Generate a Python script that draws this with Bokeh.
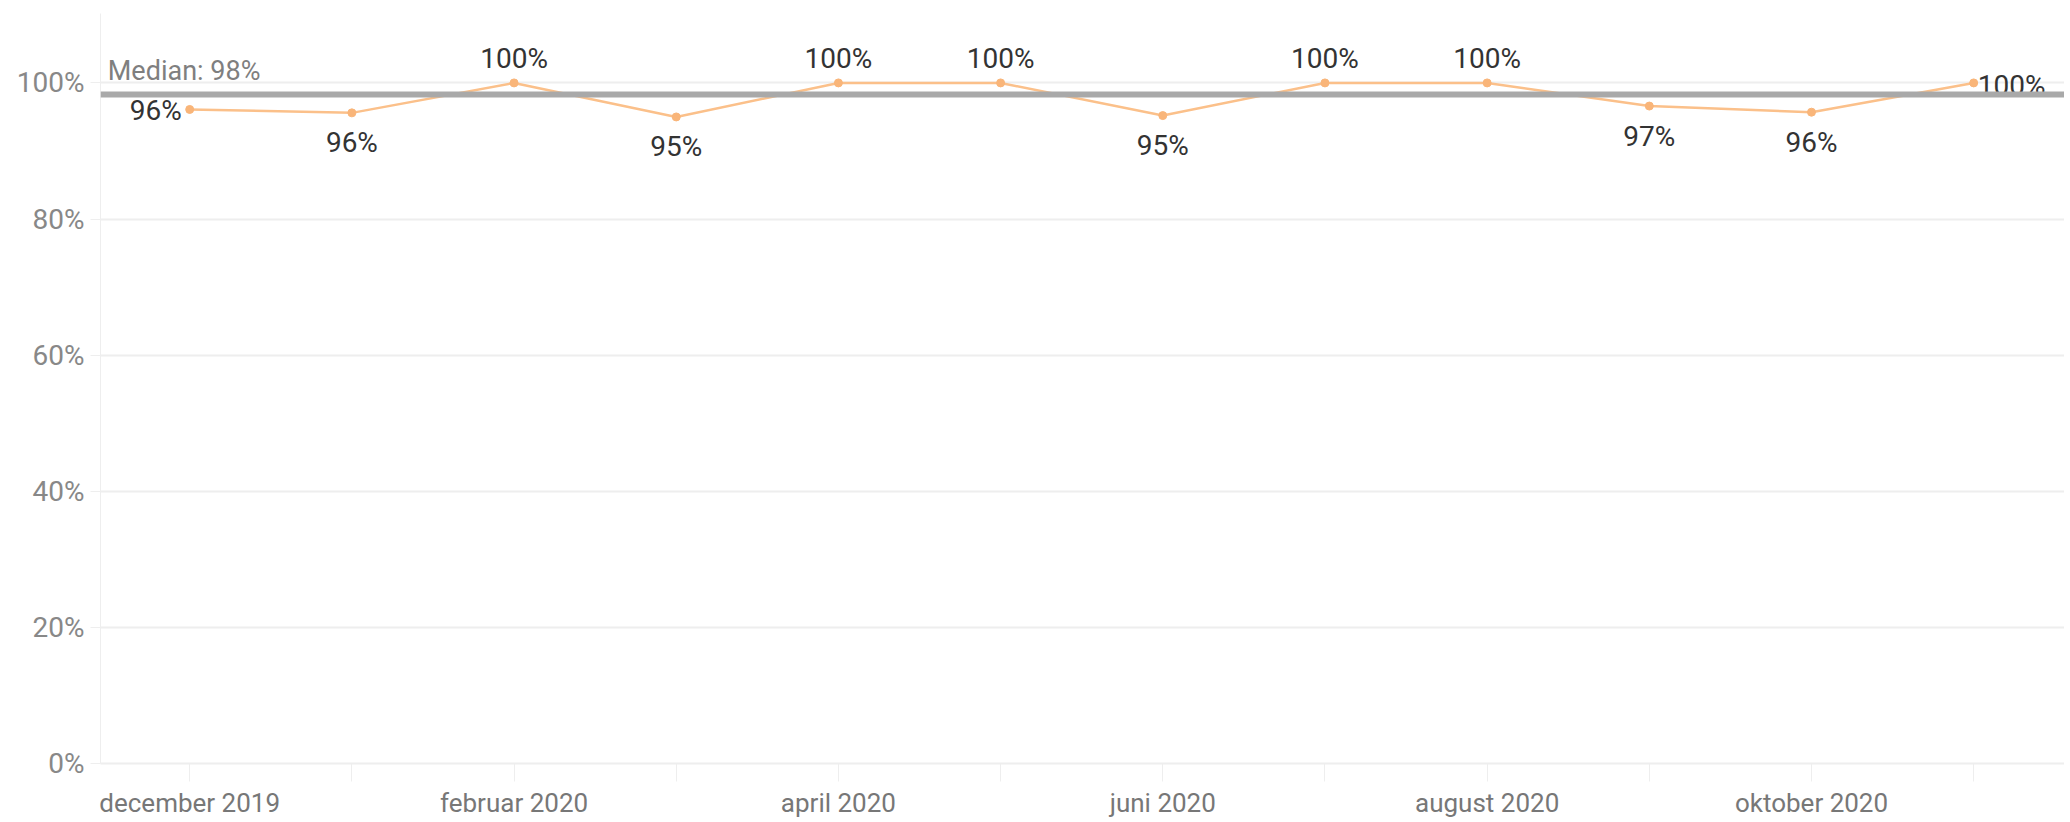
import numpy as np
from bokeh.plotting import figure
from bokeh.models import (ColumnDataSource, Range1d, FixedTicker, PrintfTickFormatter,
                          Span, Label)
from bokeh.core.properties import value
from bokeh.embed import file_html
from bokeh.resources import INLINE

# ---- data ----
months = ["december 2019", "januar 2020", "februar 2020", "marts 2020", "april 2020",
          "maj 2020", "juni 2020", "juli 2020", "august 2020", "september 2020",
          "oktober 2020", "november 2020"]
rate = [96.1, 95.6, 100.0, 95.0, 100.0, 100.0, 95.2, 100.0, 100.0, 96.6, 95.7, 100.0]
tick_labels = ["december 2019", "februar 2020", "april 2020", "juni 2020",
               "august 2020", "oktober 2020"]
y_ticks = [0, 20, 40, 60, 80, 100]

FONT = "Roboto"
LINE_C = "#fbc08a"
PT_C = "#f9b579"

x = list(range(len(months)))
labels = [f"{round(v)}%" for v in rate]
median = float(np.median(rate))

p = figure(width=2064, height=820, output_backend="svg", toolbar_location=None,
           x_range=Range1d(-0.55, 11.56), y_range=Range1d(0, 110.2),
           min_border_left=100, min_border_right=0, min_border_top=13, min_border_bottom=57)
p.outline_line_color = None
p.background_fill_color = "white"
p.border_fill_color = "white"

# grid
p.xgrid.visible = False
p.ygrid.ticker = FixedTicker(ticks=y_ticks)
p.ygrid.grid_line_color = "#eeeeee"
p.ygrid.grid_line_width = 2

# y axis
p.yaxis.ticker = FixedTicker(ticks=y_ticks)
p.yaxis.formatter = PrintfTickFormatter(format="%d%%")
p.yaxis.major_label_text_font = FONT
p.yaxis.major_label_text_font_size = "28px"
p.yaxis.major_label_text_color = "#888888"
p.yaxis.axis_line_color = "#eeeeee"
p.yaxis.major_tick_out = 10
p.yaxis.major_tick_in = 0
p.yaxis.major_tick_line_color = "#eeeeee"
p.yaxis.minor_tick_line_color = None
p.yaxis.major_label_standoff = 6

# x axis
p.xaxis.ticker = FixedTicker(ticks=x[::2], minor_ticks=x)
p.xaxis.major_label_overrides = {x[::2][i]: t for i, t in enumerate(tick_labels)}
p.xaxis.major_label_text_font = FONT
p.xaxis.major_label_text_font_size = "26px"
p.xaxis.major_label_text_color = "#777777"
p.xaxis.axis_line_color = "#eeeeee"
p.xaxis.axis_line_width = 2
p.xaxis.major_tick_out = 0
p.xaxis.major_tick_in = 0
p.xaxis.minor_tick_out = 18
p.xaxis.minor_tick_in = 0
p.xaxis.minor_tick_line_color = "#eeeeee"
p.xaxis.major_label_standoff = 6

# median reference line
p.add_layout(Span(location=median, dimension="width", line_color="#a9a9a9", line_width=6))

src = ColumnDataSource(dict(x=x, y=rate, lab=labels))
p.line("x", "y", source=src, line_color=LINE_C, line_width=2.5)
p.scatter("x", "y", source=src, size=8, fill_color=PT_C, line_color=PT_C)

# data labels
n = len(x)
top = max(rate)
groups = {"above": [], "below": [], "left": [], "right": []}
for i in range(n):
    if i == 0:
        groups["left"].append(i)
    elif i == n - 1:
        groups["right"].append(i)
    elif rate[i] >= top:
        groups["above"].append(i)
    else:
        groups["below"].append(i)

style = {
    "above": dict(text_align="center", x_offset=0, y_offset=-24),
    "below": dict(text_align="center", x_offset=0, y_offset=30),
    "left": dict(text_align="right", x_offset=-8, y_offset=1),
    "right": dict(text_align="left", x_offset=4, y_offset=3),
}
for g, idx in groups.items():
    s = ColumnDataSource(dict(x=[x[i] for i in idx], y=[rate[i] for i in idx],
                              t=[labels[i] for i in idx]))
    p.text("x", "y", text="t", source=s, text_font=value(FONT), text_font_size="28px",
           text_color="#333333", text_baseline="alphabetic", **style[g])

# median label
p.add_layout(Label(x=p.x_range.start + 0.045, y=median, text=f"Median: {round(median)}%",
                   text_font=FONT, text_font_size="27px", text_color="#7f7f7f",
                   text_baseline="alphabetic", y_offset=23))

open("out.html", "w").write(file_html(p, INLINE))
